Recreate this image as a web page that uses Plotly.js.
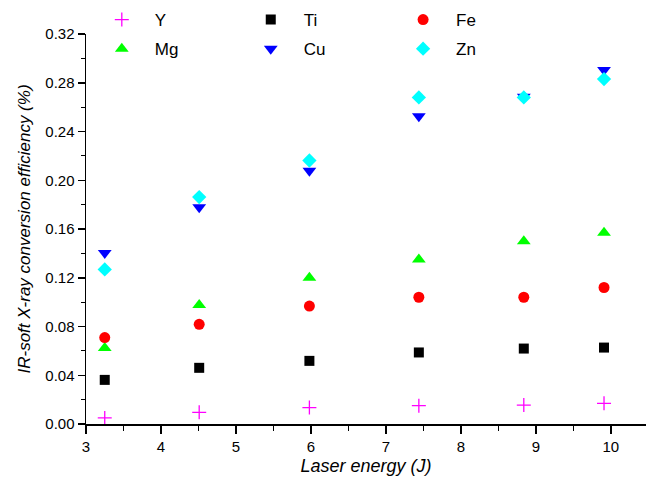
<!DOCTYPE html>
<html>
<head>
<meta charset="utf-8">
<script src="https://cdn.plot.ly/plotly-3.0.1.min.js"></script>
<style>html,body{margin:0;padding:0;background:#fff;}#chart{width:646px;height:481px;}</style>
</head>
<body>
<div id="chart"></div>
<script>
var energy = [3.25, 4.51, 5.98, 7.44, 8.84, 9.91];
var yY  = [0.005, 0.0096, 0.0135, 0.015, 0.0155, 0.017];
var yTi = [0.0362, 0.0461, 0.0518, 0.0587, 0.0619, 0.0627];
var yFe = [0.0709, 0.0818, 0.0968, 0.104, 0.104, 0.112];
var yMg = [0.0624, 0.0976, 0.120, 0.135, 0.150, 0.157];
var yCu = [0.1404, 0.1778, 0.2078, 0.2525, 0.2685, 0.2904];
var yZn = [0.1268, 0.1862, 0.2162, 0.268, 0.268, 0.2830];

function tr(name, y, symbol, color, size, legend, extra) {
  var m = {symbol: symbol, color: color, size: size, line: {width: 0}};
  if (extra) m.line = extra;
  return {x: energy, y: y, name: name, type: 'scatter', mode: 'markers',
          marker: m, legend: legend, legendgroup: name, cliponaxis: false};
}
var data = [
  tr('Y', yY, 'cross-thin-open', '#ff00ff', 10, 'legend', {color: '#ff00ff', width: 1.3}),
  tr('Mg', yMg, 'triangle-up', '#00ff00', 12, 'legend'),
  tr('Ti', yTi, 'square', '#000000', 10, 'legend2'),
  tr('Cu', yCu, 'triangle-down', '#0000ff', 12, 'legend2'),
  tr('Fe', yFe, 'circle', '#ff0000', 11, 'legend3'),
  tr('Zn', yZn, 'diamond', '#00ffff', 11, 'legend3')
];
var tickFont = {family: 'Liberation Sans, Arial, sans-serif', size: 15, color: '#000'};
var legFont = {family: 'Liberation Sans, Arial, sans-serif', size: 17, color: '#000'};
function leg(x) {
  return {orientation: 'v', x: x, xanchor: 'left', y: 1.082, yanchor: 'top',
          itemwidth: 56, tracegroupgap: 4, font: legFont,
          bgcolor: 'rgba(0,0,0,0)', traceorder: 'grouped'};
}
var layout = {
  width: 646, height: 481,
  margin: {l: 86, r: 0, t: 34, b: 57},
  paper_bgcolor: '#fff', plot_bgcolor: '#fff',
  showlegend: true,
  legend: leg(0.005),
  legend2: leg(0.271),
  legend3: leg(0.543),
  xaxis: {
    range: [3, 10.47], dtick: 1, tick0: 3,
    showgrid: false, zeroline: false,
    showline: true, linecolor: '#000', linewidth: 1.5,
    ticks: 'outside', ticklen: 8, tickwidth: 1.5, tickcolor: '#000',
    minor: {dtick: 0.5, ticks: 'outside', ticklen: 5, tickwidth: 1.2, tickcolor: '#000', showgrid: false},
    tickfont: tickFont,
    title: {text: 'Laser energy (J)', font: {family: 'Liberation Sans, Arial, sans-serif', size: 18, color: '#000', style: 'italic'}, standoff: 6}
  },
  yaxis: {
    range: [0, 0.32], dtick: 0.04, tick0: 0, tickformat: '.2f',
    showgrid: false, zeroline: false,
    showline: true, linecolor: '#000', linewidth: 1.5,
    ticks: 'outside', ticklen: 7, tickwidth: 1.5, tickcolor: '#000',
    minor: {dtick: 0.02, ticks: 'outside', ticklen: 4, tickwidth: 1.2, tickcolor: '#000', showgrid: false},
    tickfont: tickFont,
    title: {text: 'IR-soft X-ray conversion efficiency (%)', font: {family: 'Liberation Sans, Arial, sans-serif', size: 17, color: '#000', style: 'italic'}, standoff: 10}
  }
};
Plotly.newPlot('chart', data, layout, {displayModeBar: false, staticPlot: true});
</script>
</body>
</html>
